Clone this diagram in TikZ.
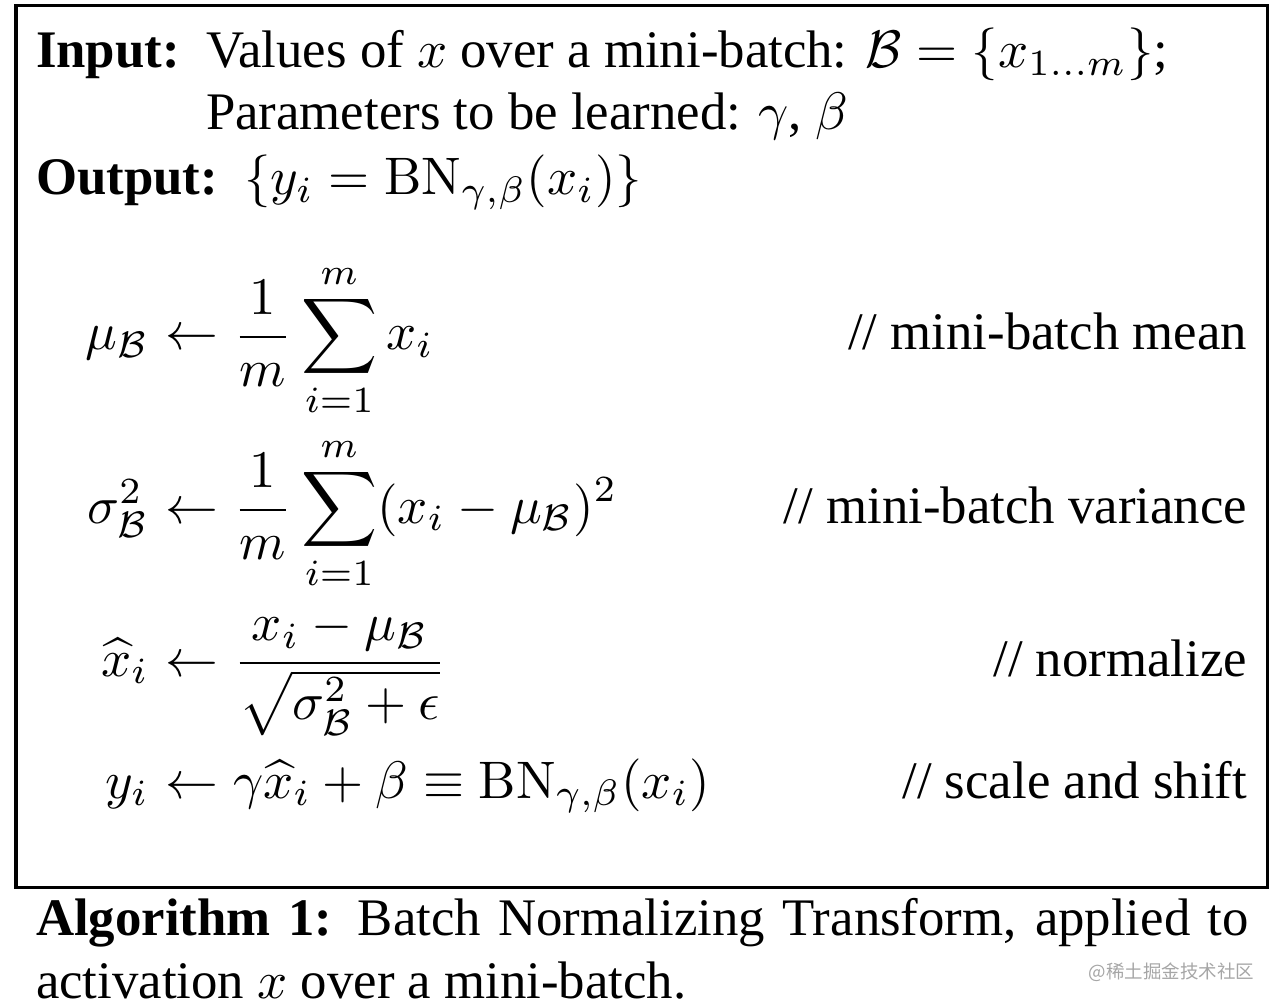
\documentclass[tikz,border=0pt]{standalone}
\usepackage[no-math]{fontspec}
\setmainfont{Liberation Serif}
\newfontfamily\cjk{Noto Sans CJK SC}
\usepackage{amsmath}
\usetikzlibrary{positioning}

\begin{document}
\begin{tikzpicture}[x=0.1894pt, y=-0.1894pt,
  txt/.style={inner sep=0pt, anchor=base west},
  cmt/.style={inner sep=0pt, anchor=base east}]

\newcommand\LFT{35}
\newcommand\IND{205}
\newcommand\ARW{150}
\newcommand\CMT{1248}

\useasboundingbox (0,0) rectangle (1282,1006);

%% frame
\draw[line width=0.6pt] (16,5.5) rectangle (1267.5,887.5);

%% input / output
\node[txt] (input)  at (\LFT, 68)  {\textbf{Input:}};
\node[txt] (values) at (\IND, 68)  {Values of $x$ over a mini-batch: $\mathcal{B}=\{x_{1\ldots m}\}$;};
\node[txt] (params) at (\IND, 130) {Parameters to be learned: $\gamma$, $\beta$};
\node[txt] (output) at (\LFT, 195) {\textbf{Output:}};
\node[txt] (outeq)  at (243, 195)  {$\{y_i=\mathrm{BN}_{\gamma,\beta}(x_i)\}$};

%% mean
\node[cmt] (meanl) at (\ARW, 350) {$\mu_{\mathcal{B}}$};
\node[txt] (meanr) at (\ARW, 350) {$\displaystyle{}\leftarrow\frac{1}{m}\sum_{i=1}^{m}x_i$};
\node[cmt] (meanc) at (\CMT, 350) {// mini-batch mean};

%% variance
\node[cmt] (varl) at (\ARW, 523) {$\sigma_{\mathcal{B}}^2$};
\node[txt] (varr) at (\ARW, 523) {$\displaystyle{}\leftarrow\frac{1}{m}\sum_{i=1}^{m}(x_i-\mu_{\mathcal{B}})^2$};
\node[cmt] (varc) at (\CMT, 523) {// mini-batch variance};

%% normalize
\node[cmt] (norml) at (\ARW, 676) {$\widehat{x}_i$};
\node[txt] (normr) at (\ARW, 676) {$\displaystyle{}\leftarrow\frac{x_i-\mu_{\mathcal{B}}}{\sqrt{\sigma_{\mathcal{B}}^2+\epsilon}}$};
\node[cmt] (normc) at (\CMT, 676) {// normalize};

%% scale and shift
\node[cmt] (scl) at (\ARW, 798) {$y_i$};
\node[txt] (scr) at (\ARW, 798) {$\displaystyle{}\leftarrow\gamma\widehat{x}_i+\beta\equiv\mathrm{BN}_{\gamma,\beta}(x_i)$};
\node[cmt] (scc) at (\CMT, 798) {// scale and shift};

%% caption
\node[txt] (caption) at (\LFT, 935) {\parbox[t]{229.7pt}{\textbf{Algorithm 1:} Batch Normalizing Transform, applied to\linebreak activation $x$ over a mini-batch.}};

\node[cmt, text=black!35] (mark) at (1255, 978) {\cjk\fontsize{3.5}{4}\selectfont @稀土掘金技术社区};

\end{tikzpicture}
\end{document}
